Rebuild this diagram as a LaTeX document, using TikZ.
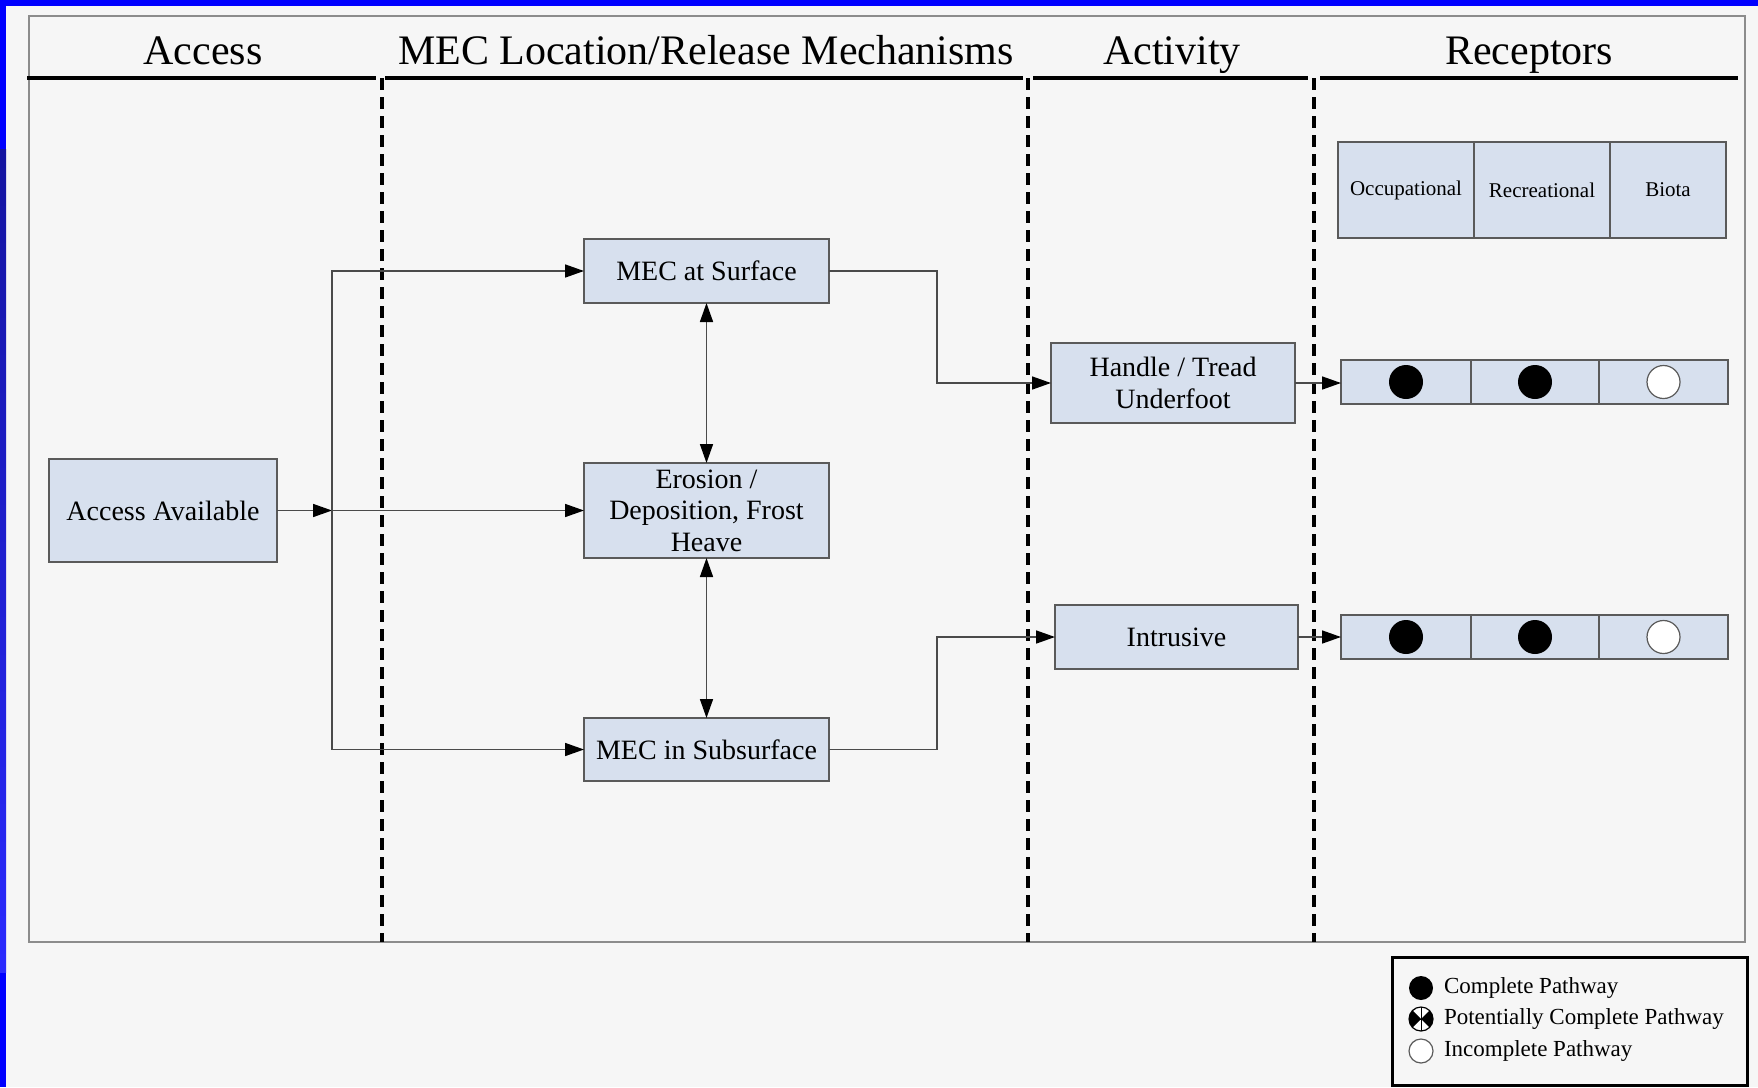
\documentclass[tikz,border=0pt]{standalone}
\usepackage{fontspec}
\setmainfont{Liberation Serif}
\usetikzlibrary{arrows.meta}

\definecolor{pagebg}{HTML}{F6F6F6}
\definecolor{boxfill}{HTML}{D7E0EE}
\definecolor{boxline}{HTML}{5A5A5A}
\definecolor{connline}{HTML}{4A4A4A}
\definecolor{framegray}{HTML}{8C8C8C}
\definecolor{edgeblue}{HTML}{0000FF}

\begin{document}
\begin{tikzpicture}[x=1pt,y=-1pt,
  every node/.style={inner sep=0pt, outer sep=0pt},
  head/.style={font=\fontsize{42}{46}\selectfont, anchor=base},
  stagebox/.style={draw=boxline, fill=boxfill, line width=1.5pt, align=center,
    font=\fontsize{28}{31.4}\selectfont},
  cell/.style={draw=boxline, fill=boxfill, line width=1.5pt,
    font=\fontsize{21}{24}\selectfont},
  conn/.style={draw=connline, line width=1.6pt},
  tip/.style={},
  arr/.style={conn, -{Triangle[length=19pt,width=13pt,color=black]}},
  dblarr/.style={conn, {Triangle[length=19pt,width=13pt,color=black]}-{Triangle[length=19pt,width=13pt,color=black]}},
  divider/.style={line width=3.2pt, dash pattern=on 12pt off 7pt},
  rule/.style={line width=3.5pt},
  fulldot/.style={circle, fill=black, minimum size=34pt},
  emptydot/.style={circle, fill=white, draw=boxline, line width=1.2pt, minimum size=33pt},
  keydot/.style={circle, minimum size=24pt},
  keytext/.style={anchor=west, font=\fontsize{23}{26}\selectfont},
]
\useasboundingbox (0,0) rectangle (1758,1087);
\fill[pagebg] (0,0) rectangle (1758,1087);

% screen edge
\fill[edgeblue] (0,0) rectangle (1758,5.5);
\fill[edgeblue] (0,0) rectangle (6,1087);
\shade[top color={rgb,255:red,20;green,20;blue,160}, bottom color={rgb,255:red,42;green,42;blue,255}]
  (0,149) rectangle (6,972);

% outer panel
\draw[framegray, line width=2pt] (29,16) rectangle (1745,942);

% column headings
\node[head] (hAccess)   at (203,64)  {Access};
\node[head] (hMech)     at (706,64)  {MEC Location/Release Mechanisms};
\node[head] (hActivity) at (1172,64) {Activity};
\node[head] (hRecept)   at (1529,64) {Receptors};

\draw[rule] (27,78) -- (376,78);
\draw[rule] (385,78) -- (1023,78);
\draw[rule] (1033,78) -- (1308,78);
\draw[rule] (1320,78) -- (1738,78);

% column dividers
\draw[divider] (382,78) -- (382,942);
\draw[divider] (1028,78) -- (1028,942);
\draw[divider] (1314,78) -- (1314,942);

% pathway stages
\node[stagebox, minimum width=228pt, minimum height=103pt] (access) at (163,510.5) {Access Available};
\node[stagebox, minimum width=245pt, minimum height=64pt] (surface) at (706.5,271) {MEC at Surface};
\node[stagebox, minimum width=245pt, minimum height=95pt] (erosion) at (706.5,510.5) {Erosion /\\Deposition, Frost\\Heave};
\node[stagebox, minimum width=245pt, minimum height=63pt] (subsurface) at (706.5,749.5) {MEC in Subsurface};
\node[stagebox, minimum width=244pt, minimum height=80pt] (handle) at (1173,383) {Handle / Tread\\Underfoot};
\node[stagebox, minimum width=243pt, minimum height=64pt] (intrusive) at (1176.5,637) {Intrusive};

% receptor table
\node[cell, minimum width=136pt, minimum height=96pt] (occ) at (1406,190) {Occupational};
\node[cell, minimum width=136pt, minimum height=96pt] (rec) at (1542,190) {Recreational};
\node[cell, minimum width=116pt, minimum height=96pt] (bio) at (1668,190) {Biota};

\node[cell, minimum width=130pt, minimum height=44pt] (r1a) at (1406,382) {};
\node[cell, minimum width=128pt, minimum height=44pt] (r1b) at (1535,382) {};
\node[cell, minimum width=129pt, minimum height=44pt] (r1c) at (1663.5,382) {};
\node[cell, minimum width=130pt, minimum height=44pt] (r2a) at (1406,637) {};
\node[cell, minimum width=128pt, minimum height=44pt] (r2b) at (1535,637) {};
\node[cell, minimum width=129pt, minimum height=44pt] (r2c) at (1663.5,637) {};

\node[fulldot]  (d1a) at (r1a.center) {};
\node[fulldot]  (d1b) at (r1b.center) {};
\node[emptydot] (d1c) at (r1c.center) {};
\node[fulldot]  (d2a) at (r2a.center) {};
\node[fulldot]  (d2b) at (r2b.center) {};
\node[emptydot] (d2c) at (r2c.center) {};

% connectors
\coordinate (split) at (332,510.5);
\draw[arr] (access.east) -- (split);
\draw[arr] (split) |- (surface.west);
\draw[arr] (split) -- (erosion.west);
\draw[arr] (split) |- (subsurface.west);
\draw[dblarr] (surface.south) -- (erosion.north);
\draw[dblarr] (erosion.south) -- (subsurface.north);
\draw[arr] (surface.east) -- ++(108,0) |- (handle.west);
\draw[arr] (subsurface.east) -- ++(108,0) |- (intrusive.west);
\draw[arr] (handle.east) -- (handle.east -| r1a.west);
\draw[arr] (intrusive.east) -- (intrusive.east -| r2a.west);

% legend
\draw[line width=3pt] (1392,957) rectangle (1747,1085);
\node[keydot, fill=black] (kFull) at (1421,988) {};
\node[keydot, draw=black, line width=1.2pt, fill=white] (kPart) at (1421,1019) {};
\fill (kPart.center) -- ++(45:12) arc[start angle=45, end angle=-45, radius=12] -- cycle;
\fill (kPart.center) -- ++(135:12) arc[start angle=135, end angle=225, radius=12] -- cycle;
\draw[line width=1pt] (kPart.north) -- (kPart.south);
\draw[line width=1pt] (kPart.west) -- (kPart.east);
\node[keydot, draw=boxline, line width=1.2pt, fill=white] (kNone) at (1421,1051) {};
\node[keytext] (tFull) at (1444,988) {Complete Pathway};
\node[keytext] (tPart) at (1444,1019) {Potentially Complete Pathway};
\node[keytext] (tNone) at (1444,1051) {Incomplete Pathway};
\end{tikzpicture}
\end{document}
